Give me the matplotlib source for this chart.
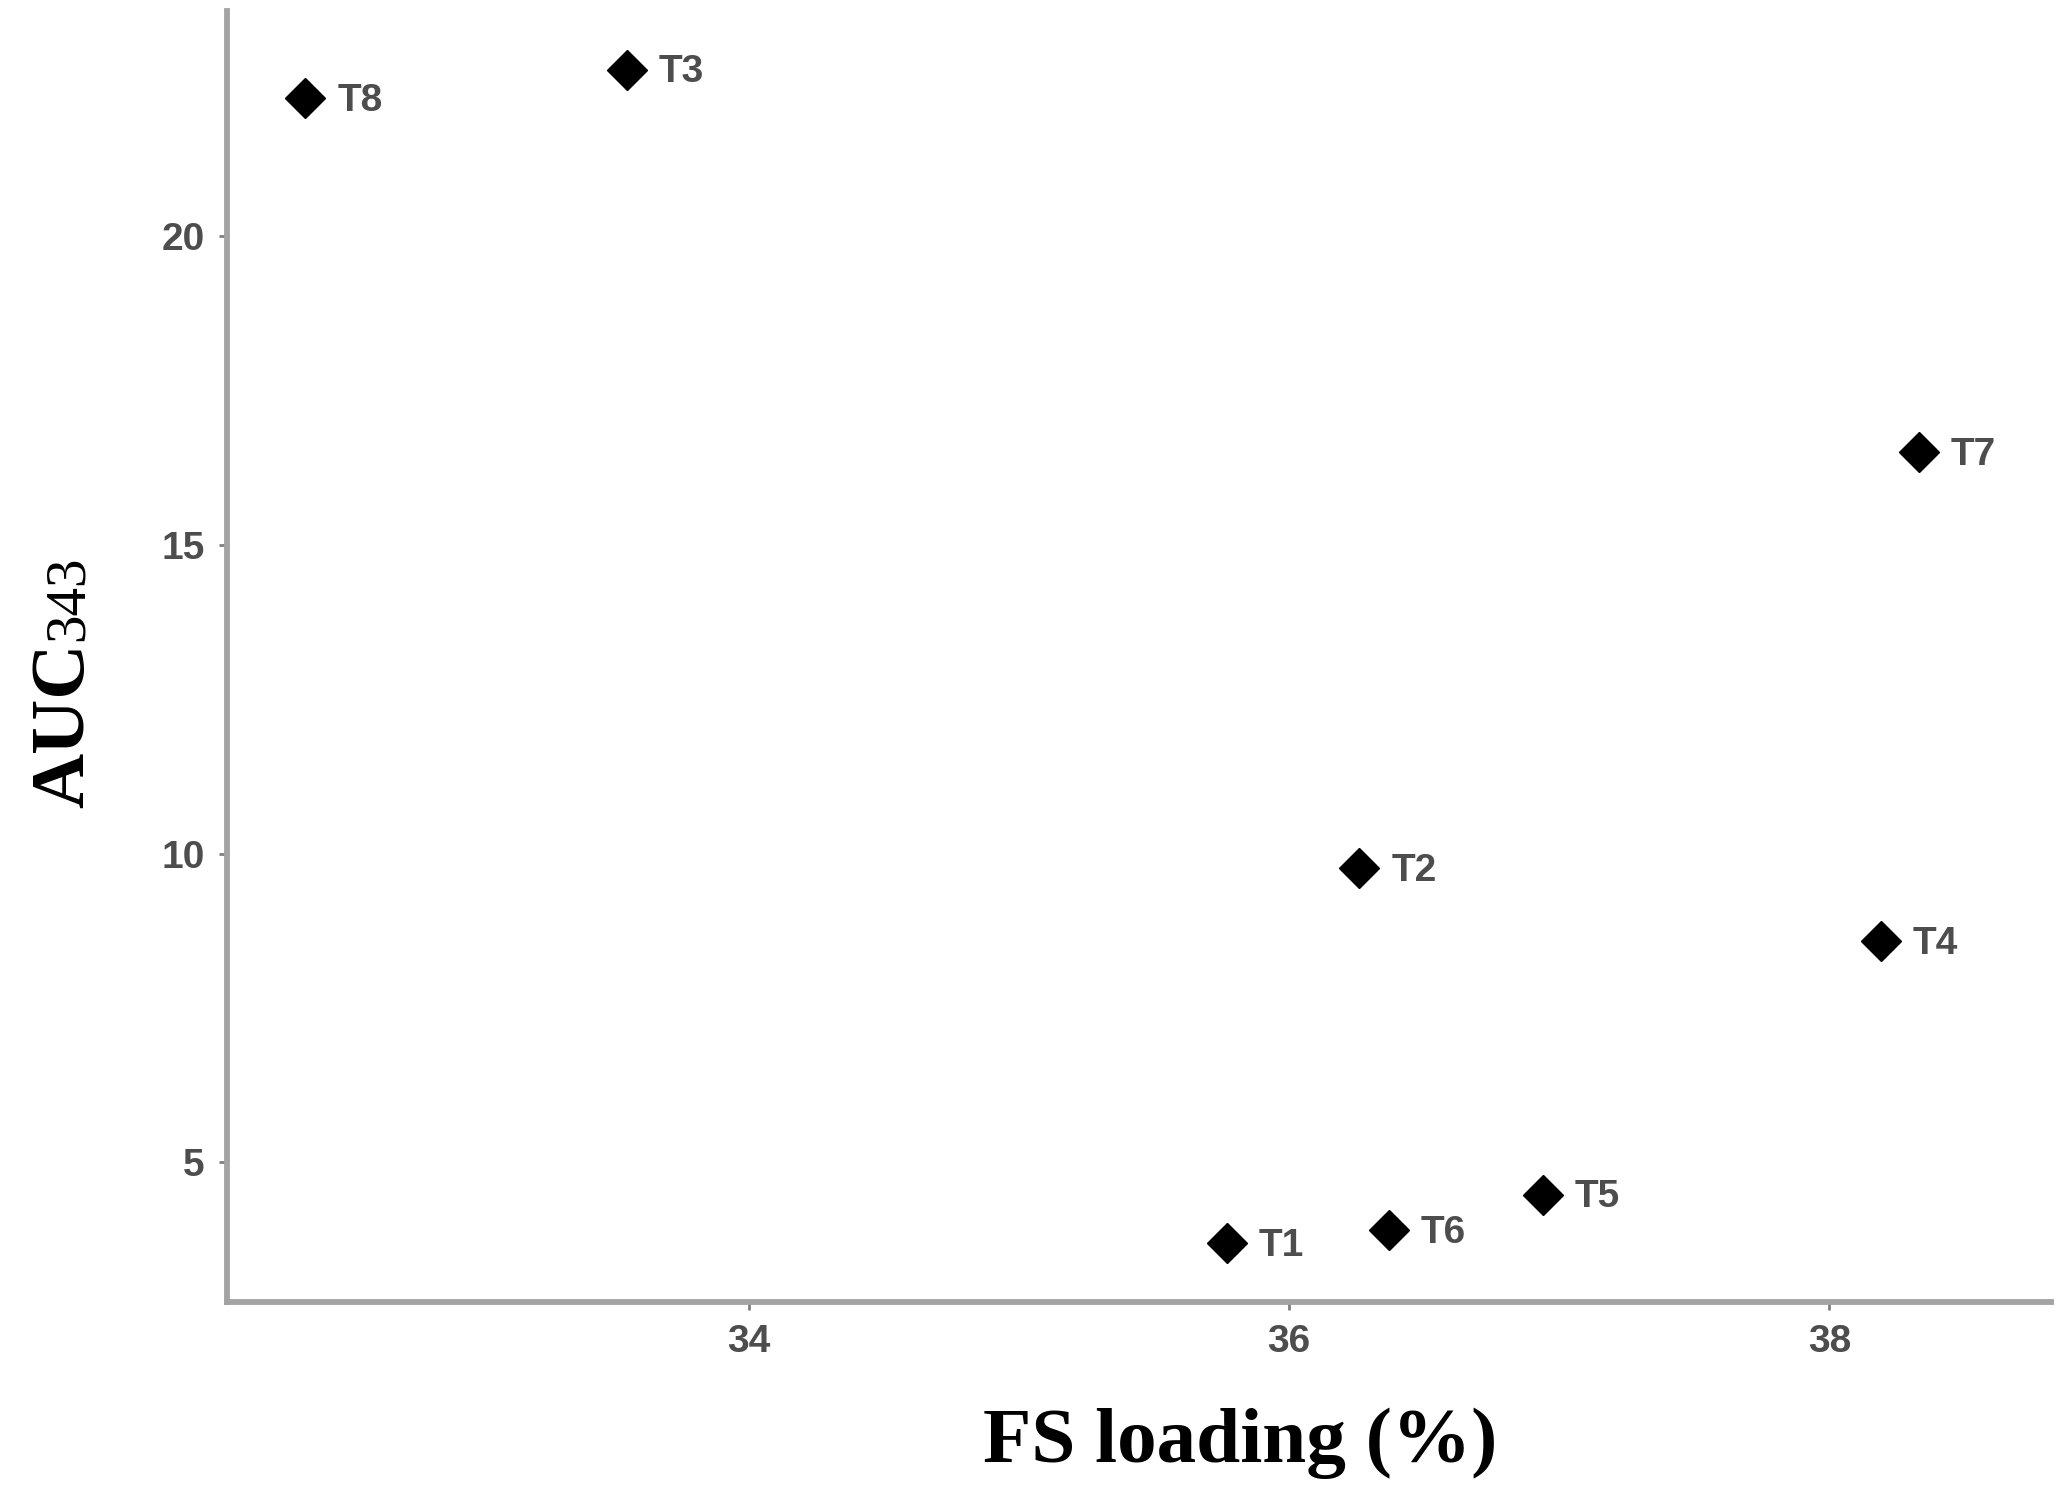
import matplotlib
matplotlib.use('Agg')
import matplotlib.pyplot as plt

# values
names = ['T1', 'T2', 'T3', 'T4', 'T5', 'T6', 'T7', 'T8']
fs_loading = [35.77, 36.26, 33.55, 38.19, 36.94, 36.37, 38.33, 32.36]
auc343 = [3.69, 9.77, 22.69, 8.58, 4.48, 3.90, 16.5, 22.23]
x_ticks = [34, 36, 38]
y_ticks = [5, 10, 15, 20]

W, H = 2068, 1498
grey_axis = '#a3a3a3'
grey_text = '#4d4d4d'

fig = plt.figure(figsize=(W / 100, H / 100), dpi=100)
fig.set_facecolor('white')
ax = fig.add_axes([227 / W, 1 - 1302 / H, (2051 - 227) / W, (1302 - 11) / H])

ax.plot(fs_loading, auc343, linestyle='none', marker='D', markersize=20,
        color='black', markeredgewidth=1)
for n, xv, yv in zip(names, fs_loading, auc343):
    ax.annotate(n, xy=(xv, yv), xytext=(23, -2), textcoords='offset points',
                ha='left', va='center', fontsize=28, fontweight='bold',
                family='Liberation Sans', color=grey_text)

ax.set_xlim(32.07, 38.82)
ax.set_ylim(2.74, 23.64)
ax.set_xticks(x_ticks)
ax.set_yticks(y_ticks)

for s in ['top', 'right']:
    ax.spines[s].set_visible(False)
for s in ['left', 'bottom']:
    ax.spines[s].set_color(grey_axis)
    ax.spines[s].set_linewidth(4.2)
    ax.spines[s].set_capstyle('projecting')

ax.tick_params(length=6, width=2, color='#7f7f7f', pad=10,
               labelsize=28, labelcolor=grey_text)
for lab in ax.get_xticklabels() + ax.get_yticklabels():
    lab.set_fontweight('bold')
    lab.set_family('Liberation Sans')

# axis titles
fig.text(983 / W, 1 - 1462 / H, 'FS loading (%)', ha='left', va='baseline',
         fontsize=57, fontweight='bold', family='Liberation Serif', color='black')

auc = fig.text(83 / W, 1 - 808 / H, 'AUC', rotation=90, rotation_mode='anchor',
               ha='left', va='baseline', fontsize=55, fontweight='bold',
               family='Liberation Serif', color='black')
fig.canvas.draw()
bb = auc.get_window_extent()
fig.text(83 / W, (bb.y1 + 2) / H, '343', rotation=90, rotation_mode='anchor',
         ha='left', va='baseline', fontsize=41, family='Liberation Serif',
         color='black')

plt.savefig('out.png', dpi=100, facecolor='white')
